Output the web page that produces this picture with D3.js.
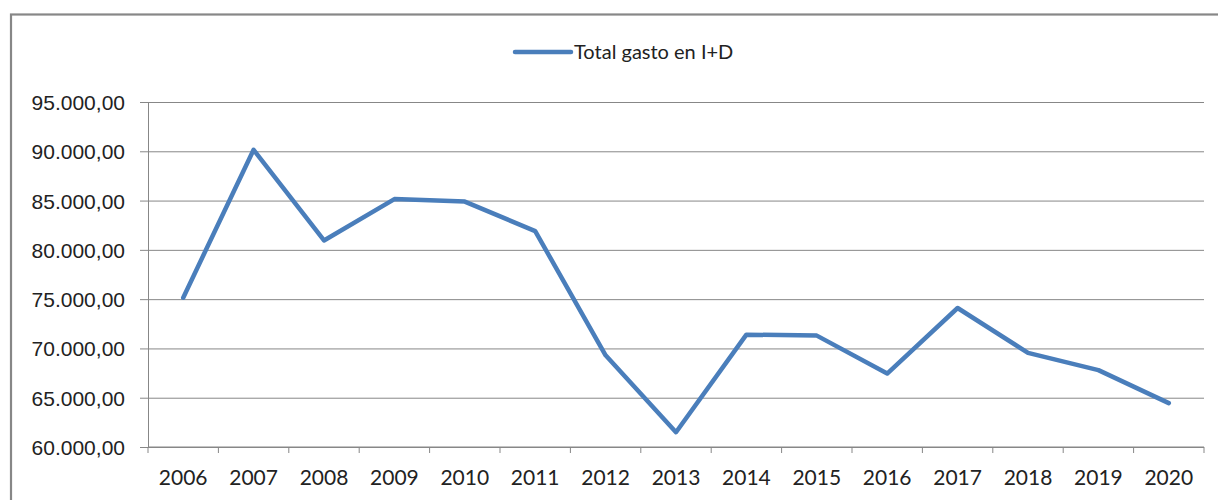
<!DOCTYPE html>
<html>
<head>
<meta charset="utf-8">
<script src="https://cdn.jsdelivr.net/npm/d3@7"></script>
<style>
  body { margin: 0; background: #fff; }
  svg { display: block; font-family: Lato, "Open Sans", sans-serif; }
</style>
</head>
<body>
<svg width="1218" height="500"></svg>
<script>
const years = ["2006", "2007", "2008", "2009", "2010", "2011", "2012", "2013",
               "2014", "2015", "2016", "2017", "2018", "2019", "2020"];
const gasto = [75150, 90150, 80950, 85150, 84900, 81900, 69300, 61500,
               71400, 71300, 67450, 74100, 69550, 67800, 64450];
const yTicks = [60000, 65000, 70000, 75000, 80000, 85000, 90000, 95000];
const seriesName = "Total gasto en I+D";

const svg = d3.select("svg");
const gray = "#878787";
const blue = "#4a7ebb";

let padding = { top: 102, right: 14, bottom: 53, left: 148 };
const chartArea = {
  width: 1218 - padding.left - padding.right,
  height: 500 - padding.top - padding.bottom
};

// chart border (runs off the right and bottom of the picture)
svg.append("rect")
  .attr("x", 11).attr("y", 14.5)
  .attr("width", 1300).attr("height", 600)
  .attr("fill", "none")
  .attr("stroke", gray)
  .attr("stroke-width", 2.2);

const es = d3.formatLocale({ decimal: ",", thousands: ".", grouping: [3], currency: ["", "€"] });
const fmt = es.format(",.2f");

const xScale = d3.scaleBand()
  .domain(years)
  .range([0, chartArea.width])
  .paddingInner(0).paddingOuter(0);

const yScale = d3.scaleLinear()
  .domain([60000, 95000])
  .range([chartArea.height, 0]);

const g = svg.append("g")
  .attr("transform", "translate(" + padding.left + "," + padding.top + ")");

// gridlines
const grid = g.append("g")
  .call(d3.axisLeft(yScale).tickValues(yTicks).tickSize(-chartArea.width).tickFormat(""));
grid.select(".domain").remove();
grid.selectAll("line").attr("stroke", gray).attr("stroke-width", 1);

// y axis
const yAxis = g.append("g")
  .call(d3.axisLeft(yScale).tickValues(yTicks).tickFormat(fmt)
    .tickSize(8).tickSizeOuter(0).tickPadding(15));
yAxis.select(".domain").attr("stroke", gray);
yAxis.selectAll("line").attr("stroke", gray);
yAxis.selectAll("text")
  .attr("font-size", 21)
  .attr("fill", "#222")
  .attr("dy", "0.36em");

// x axis: ticks between categories
const xAxis = g.append("g")
  .attr("transform", "translate(0," + chartArea.height + ")");
xAxis.append("line")
  .attr("x1", 0).attr("x2", chartArea.width)
  .attr("stroke", gray);
xAxis.selectAll(".tk")
  .data(years.map(d => xScale(d)).concat([chartArea.width]))
  .enter().append("line")
  .attr("x1", d => d).attr("x2", d => d)
  .attr("y1", 0).attr("y2", 6)
  .attr("stroke", gray);
xAxis.selectAll(".lbl")
  .data(years)
  .enter().append("text")
  .attr("x", d => xScale(d) + xScale.bandwidth() / 2)
  .attr("y", 38)
  .attr("text-anchor", "middle")
  .attr("font-size", 21)
  .attr("fill", "#222")
  .text(d => d);

// line
const line = d3.line()
  .x((d, i) => xScale(years[i]) + xScale.bandwidth() / 2)
  .y(d => yScale(d));

g.append("path")
  .datum(gasto)
  .attr("d", line)
  .attr("fill", "none")
  .attr("stroke", blue)
  .attr("stroke-width", 4.5)
  .attr("stroke-linejoin", "round")
  .attr("stroke-linecap", "round");

// legend
const legend = svg.append("g").attr("transform", "translate(515,52)");
legend.append("line")
  .attr("x1", 0).attr("x2", 56)
  .attr("stroke", blue)
  .attr("stroke-width", 4.5)
  .attr("stroke-linecap", "round");
legend.append("text")
  .attr("x", 59).attr("y", 6.5)
  .attr("font-size", 20)
  .attr("fill", "#222")
  .text(seriesName);
</script>
</body>
</html>
